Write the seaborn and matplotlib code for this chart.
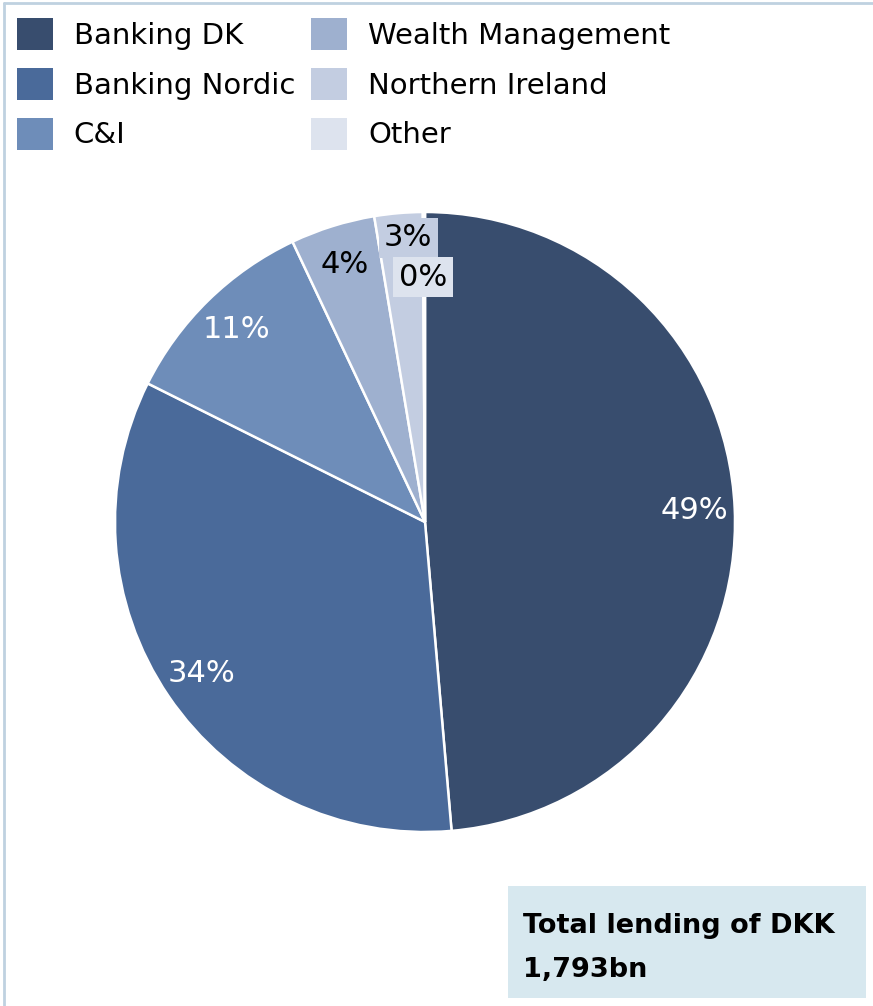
import matplotlib
matplotlib.use("Agg")
import matplotlib.pyplot as plt
from matplotlib.patches import Patch, Rectangle
from matplotlib.lines import Line2D
import numpy as np
import seaborn as sns

# Lending by business unit, DKK bn (total 1,793bn)
segments = ["Banking DK", "Banking Nordic", "C&I", "Wealth Management",
            "Northern Ireland", "Other"]
lending_bn = [872, 605, 190, 79, 45, 2]
segment_colors = ["#384d6e", "#4a6a9a", "#6e8db9", "#9eb0cf", "#c3cde1", "#dde3ee"]
total_lines = ["Total lending of DKK", "1,793bn"]

sns.set_theme(style="white")
plt.rcParams["font.family"] = ["DejaVu Sans"]
plt.rcParams["text.color"] = "black"

W, H = 873, 1006
fig = plt.figure(figsize=(W / 100, H / 100), dpi=100)

# pie axes: centre at (425, 522) px, radius 310 px
cx, cy, r = 425, 522, 310
ax = fig.add_axes([(cx - r) / W, (H - cy - r) / H, 2 * r / W, 2 * r / H])

wedges, texts, autotexts = ax.pie(
    lending_bn,
    colors=segment_colors,
    startangle=90,
    counterclock=False,
    autopct="%.0f%%",
    pctdistance=0.87,
    wedgeprops=dict(edgecolor="white", linewidth=1.8),
    textprops=dict(fontsize=22),
)
ax.set_xlim(-1, 1)
ax.set_ylim(-1, 1)
ax.set_aspect("equal")

# label styling: white on the dark slices, boxed black on the thin ones
for i, (w, t) in enumerate(zip(wedges, autotexts)):
    t.set_color("white" if i < 3 else "black")
    if i >= 4:
        theta = np.deg2rad((w.theta1 + w.theta2) / 2)
        rad = {4: 0.92, 5: 0.79}[i]
        shift = {4: 0.025, 5: -0.004}[i]
        t.set_position((rad * np.cos(theta) + shift, rad * np.sin(theta)))
        t.set_bbox(dict(facecolor=segment_colors[i], edgecolor="none", pad=4))

# legend, two columns
handles = [Patch(facecolor=c, edgecolor="none") for c in segment_colors]
fig.legend(
    handles, segments,
    loc="upper left",
    bbox_to_anchor=(17 / W, 1 - 18 / H),
    ncols=2,
    frameon=False,
    fontsize=21,
    labelcolor="black",
    handlelength=1.23,
    handleheight=1.3,
    handletextpad=0.72,
    labelspacing=0.62,
    columnspacing=0.55,
    borderpad=0,
    borderaxespad=0,
)

# total lending box
fig.patches.append(Rectangle((508 / W, 1 - 998 / H), (866 - 508) / W, (998 - 886) / H,
                             transform=fig.transFigure, facecolor="#d7e8ef",
                             edgecolor="none", zorder=0))
for line, base_y in zip(total_lines, [933, 977]):
    fig.text(523 / W, 1 - base_y / H, line, ha="left", va="baseline",
             fontsize=19.5, fontweight="bold", color="black")

# thin frame lines along the top and left edges
fig.add_artist(Line2D([4 / W, 4 / W], [0, 1 - 3 / H], transform=fig.transFigure,
                      color="#bfd1e0", linewidth=2))
fig.add_artist(Line2D([4 / W, 1], [1 - 3 / H, 1 - 3 / H], transform=fig.transFigure,
                      color="#bfd1e0", linewidth=2))

fig.savefig("out.png", dpi=100)
